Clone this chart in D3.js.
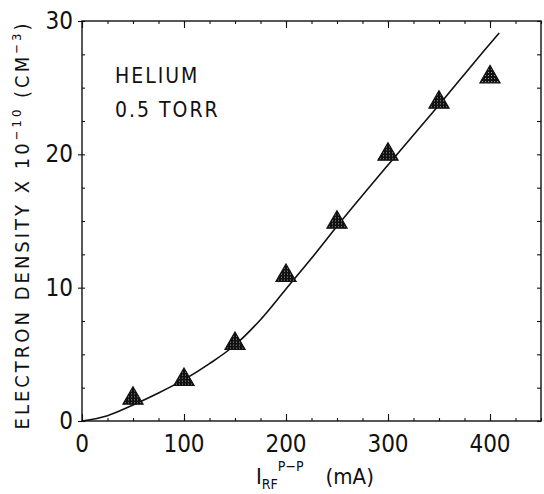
<!DOCTYPE html>
<html>
<head>
<meta charset="utf-8">
<script src="https://cdn.jsdelivr.net/npm/d3@7"></script>
<style>
  body { margin: 0; background: #fff; }
  text { font-family: "DejaVu Sans Condensed", "DejaVu Sans", sans-serif; font-stretch: condensed; fill: #111; }
</style>
</head>
<body>
<div id="chart"></div>
<script>
"use strict";

// measured points (triangles)
const currentMA = [50, 100, 150, 200, 250, 300, 350, 400];
const density = [1.7, 3.1, 5.8, 10.9, 14.9, 20.0, 23.9, 25.8];

// fitted curve
const fitX = [0, 25, 50, 75, 100, 125, 150, 175, 200, 225, 250, 300, 350, 400, 409];
const fitY = [0, 0.4, 1.2, 2.1, 3.1, 4.3, 5.7, 7.6, 9.9, 12.2, 14.6, 19.2, 23.7, 28.3, 29.1];

const xTicks = [0, 100, 200, 300, 400];
const yTicks = [0, 10, 20, 30];

const width = 544, height = 494;
const margin = { left: 82, right: 3, top: 21, bottom: 73 };

const svg = d3.select("#chart").append("svg")
    .attr("width", width)
    .attr("height", height);

const x = d3.scaleLinear().domain([0, 450]).range([margin.left, width - margin.right]);
const y = d3.scaleLinear().domain([0, 30]).range([height - margin.bottom, margin.top]);

// stippled fill for the triangles
const pat = svg.append("defs").append("pattern")
    .attr("id", "stipple")
    .attr("width", 3).attr("height", 3)
    .attr("patternUnits", "userSpaceOnUse");
pat.append("rect").attr("width", 3).attr("height", 3).attr("fill", "#111");
pat.append("rect").attr("x", 1).attr("y", 1).attr("width", 1).attr("height", 1).attr("fill", "#999");

// frame
svg.append("rect")
    .attr("x", x(0)).attr("y", y(30))
    .attr("width", x(450) - x(0)).attr("height", y(0) - y(30))
    .attr("fill", "none").attr("stroke", "#111").attr("stroke-width", 1.4);

// axes with inward ticks on all four sides
const xMinor = d3.range(0, 451, 25);
const yMinor = d3.range(0, 30.1, 2.5);

function ticks(axis, pos) {
    svg.append("g")
        .attr("transform", pos)
        .call(axis)
        .call(g => g.select(".domain").remove());
}
ticks(d3.axisTop(x).tickValues(xMinor).tickSize(3).tickFormat(""), `translate(0,${y(0)})`);
ticks(d3.axisTop(x).tickValues(xTicks).tickSize(7).tickFormat(""), `translate(0,${y(0)})`);
ticks(d3.axisBottom(x).tickValues(xMinor).tickSize(3).tickFormat(""), `translate(0,${y(30)})`);
ticks(d3.axisBottom(x).tickValues(xTicks).tickSize(7).tickFormat(""), `translate(0,${y(30)})`);
ticks(d3.axisRight(y).tickValues(yMinor).tickSize(3).tickFormat(""), `translate(${x(0)},0)`);
ticks(d3.axisLeft(y).tickValues(yTicks).tickSize(4).tickFormat(""), `translate(${x(0)},0)`);
ticks(d3.axisLeft(y).tickValues(yMinor).tickSize(4).tickFormat(""), `translate(${x(450)},0)`);

svg.selectAll(".tick line").attr("stroke", "#111").attr("stroke-width", 1.1);

// tick labels
svg.append("g").selectAll("text")
    .data(xTicks)
    .join("text")
    .attr("x", d => x(d))
    .attr("y", y(0) + 31)
    .attr("text-anchor", "middle")
    .style("font-size", "24px")
    .text(d => d);

svg.append("g").selectAll("text")
    .data(yTicks)
    .join("text")
    .attr("x", x(0) - 9)
    .attr("y", d => y(d) + 8)
    .attr("text-anchor", "end")
    .style("font-size", "24px")
    .text(d => d);

// fitted curve
const line = d3.line()
    .x((d, i) => x(fitX[i]))
    .y(d => y(d))
    .curve(d3.curveMonotoneX);

svg.append("path")
    .datum(fitY)
    .attr("d", line)
    .attr("fill", "none")
    .attr("stroke", "#111")
    .attr("stroke-width", 1.6);

// data triangles
const tri = d3.symbol().type(d3.symbolTriangle).size(175);
svg.append("g").selectAll("path")
    .data(currentMA)
    .join("path")
    .attr("transform", (d, i) => `translate(${x(d)},${y(density[i])})`)
    .attr("d", tri)
    .attr("fill", "url(#stipple)")
    .attr("stroke", "#111")
    .attr("stroke-width", 1.2);

// annotation
svg.append("text")
    .attr("x", 115).attr("y", 83)
    .style("font-size", "21px")
    .style("letter-spacing", "2px")
    .text("HELIUM");
svg.append("text")
    .attr("x", 115).attr("y", 117)
    .style("font-size", "21px")
    .style("letter-spacing", "2px")
    .text("0.5 TORR");

// y axis title
const yTitle = svg.append("text")
    .attr("transform", `translate(29,${(y(0) + y(30)) / 2 + 4}) rotate(-90)`)
    .attr("text-anchor", "middle")
    .style("font-size", "20px")
    .style("letter-spacing", "3px");
yTitle.append("tspan").text("ELECTRON DENSITY X 10");
yTitle.append("tspan").attr("dy", -8).style("font-size", "13px").text("−10");
yTitle.append("tspan").attr("dy", 8).text(" (CM");
yTitle.append("tspan").attr("dy", -8).style("font-size", "13px").text("−3");
yTitle.append("tspan").attr("dy", 8).text(")");

// x axis title
const xTitle = svg.append("text")
    .attr("x", 256)
    .attr("y", 484)
    .style("font-size", "22px");
xTitle.append("tspan").text("I");
xTitle.append("tspan").attr("dy", 5).style("font-size", "14px").text("RF");
xTitle.append("tspan").attr("dy", -18).style("font-size", "14px").text("P−P");
xTitle.append("tspan").attr("dy", 13).attr("dx", 22).text("(mA)");
</script>
</body>
</html>
